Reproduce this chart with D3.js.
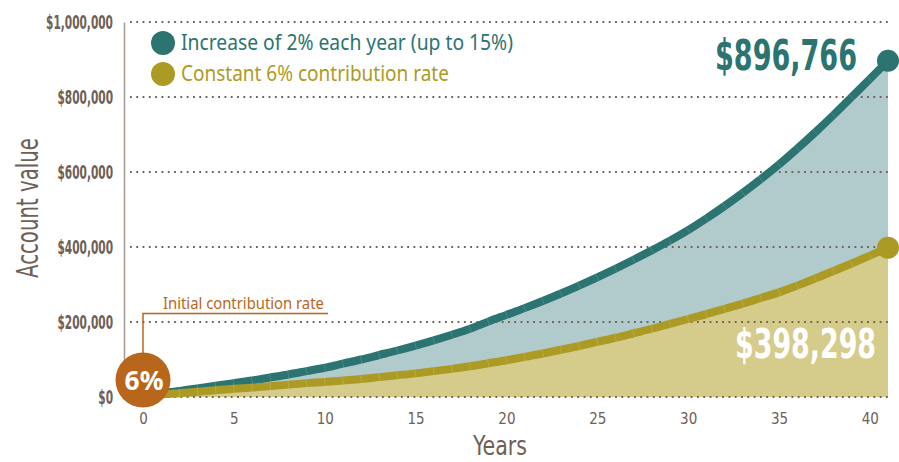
<!DOCTYPE html>
<html>
<head>
<meta charset="utf-8">
<script src="https://cdn.jsdelivr.net/npm/d3@7"></script>
<style>
  body { margin: 0; background: #fff; }
  svg { display: block; }
</style>
</head>
<body>
<div id="chart"></div>
<script>
// data (account values in thousands of dollars)
const years = [0,1,2,3,4,5,6,7,8,9,10,11,12,13,14,15,16,17,18,19,20,
               21,22,23,24,25,26,27,28,29,30,31,32,33,34,35,36,37,38,39,40,41];
const increasing = [4,10,16,23,30,37,44,52,60,69,78,89,100,112,124,137,151,166,182,201,219,
                    237,256,276,297,319,342,366,391,417,445,476,509,544,581,620,662,706,752,800,848,896.766];
const constant = [4,7,10,14,18,22,25,29,33,37,40,44,48,53,58,63,69,75,82,90,98,
                  107,116,126,136,147,158,170,182,195,208,221,235,249,264,279,297,316,336,356,377,398.298];
const xTicks = [0,5,10,15,20,25,30,35,40];
const yTicks = [0,200,400,600,800,1000];
const yTickLabels = ['$0','$200,000','$400,000','$600,000','$800,000','$1,000,000'];
const legendLabels = ['Increase of 2% each year (up to 15%)', 'Constant 6% contribution rate'];
const endLabels = ['$896,766', '$398,298'];

const W = 899, H = 462;
const teal = '#2b7471', tealFill = '#b1cbcd';
const olive = '#ab9b24', oliveFill = '#d5cc8b';
const orange = '#b8661b', ink = '#6e6057';
const narrow = "'Liberation Sans Narrow','DejaVu Sans Condensed',sans-serif";

// squeeze a text horizontally to width w (keeps its anchor point)
function fit(sel, w, rot) {
    const node = sel.node();
    const k = w / node.getComputedTextLength();
    const tx = +sel.attr('x') || 0, ty = +sel.attr('y') || 0;
    sel.attr('x', 0).attr('y', 0)
        .attr('transform', 'translate(' + tx + ',' + ty + ')' + (rot ? ' rotate(' + rot + ')' : '') + ' scale(' + k + ',1)');
}

const svg = d3.select('#chart').append('svg')
    .attr('width', W).attr('height', H);

const x = d3.scaleLinear().domain([0, 41]).range([143, 888]);
const y = d3.scaleLinear().domain([0, 1000]).range([397, 22]);

const rows = years.map((yr, i) => ({ yr, a: increasing[i], b: constant[i] }));

// areas
const areaA = d3.area().x(d => x(d.yr)).y0(y(0)).y1(d => y(d.a)).curve(d3.curveMonotoneX);
const areaB = d3.area().x(d => x(d.yr)).y0(y(0)).y1(d => y(d.b)).curve(d3.curveMonotoneX);
svg.append('path').datum(rows).attr('d', areaA).attr('fill', tealFill);
svg.append('path').datum(rows).attr('d', areaB).attr('fill', oliveFill);

// dotted grid
svg.append('g').selectAll('line').data(yTicks).join('line')
    .attr('x1', 130).attr('x2', 888)
    .attr('y1', d => y(d)).attr('y2', d => y(d))
    .attr('stroke', ink).attr('stroke-width', 2)
    .attr('stroke-dasharray', '1.8 4.5');

// y axis
const yAxis = d3.axisLeft(y).tickValues(yTicks).tickSize(0).tickSizeOuter(0).tickPadding(11)
    .tickFormat((d, i) => yTickLabels[i]);
const yg = svg.append('g').attr('transform', 'translate(124,0)').call(yAxis);
yg.select('.domain').attr('stroke', '#a59a91').attr('stroke-width', 1.5);
yg.selectAll('text')
    .attr('font-family', narrow).attr('font-weight', 'bold')
    .attr('font-size', 19).attr('fill', ink);
const widest = yg.selectAll('text').filter((d, i) => i === yTicks.length - 1).node().getComputedTextLength();
const yk = 67 / widest;
yg.selectAll('text').each(function () {
    const t = d3.select(this);
    fit(t, this.getComputedTextLength() * yk);
});

// x axis
const xAxis = d3.axisBottom(x).tickValues(xTicks).tickSize(0).tickPadding(16);
const xg = svg.append('g').attr('transform', 'translate(0,397)').call(xAxis);
xg.select('.domain').remove();
xg.selectAll('text')
    .attr('font-family', narrow).attr('font-size', 15).attr('fill', ink);

// lines
const lineA = d3.line().x(d => x(d.yr)).y(d => y(d.a)).curve(d3.curveMonotoneX);
const lineB = d3.line().x(d => x(d.yr)).y(d => y(d.b)).curve(d3.curveMonotoneX);
svg.append('path').datum(rows).attr('d', lineA)
    .attr('fill', 'none').attr('stroke', teal).attr('stroke-width', 8);
svg.append('path').datum(rows).attr('d', lineB)
    .attr('fill', 'none').attr('stroke', olive).attr('stroke-width', 8);

// faint segment seams across the thick lines
function seams(key, color) {
    const inner = rows.slice(1, rows.length - 1);
    svg.append('g').selectAll('line').data(inner).join('line')
        .each(function (d, i) {
            const p = rows[i], n = rows[i + 2];
            const dx = x(n.yr) - x(p.yr), dy = y(n[key]) - y(p[key]);
            const l = Math.hypot(dx, dy);
            const nx = -dy / l * 4, ny = dx / l * 4;
            const cx = x(d.yr), cy = y(d[key]);
            d3.select(this)
                .attr('x1', cx - nx).attr('y1', cy - ny)
                .attr('x2', cx + nx).attr('y2', cy + ny);
        })
        .attr('stroke', color).attr('stroke-width', 0.7).attr('opacity', 0.45);
}
seams('a', '#8fb3b2');
seams('b', '#d6cc8e');

// end dots
const last = rows[rows.length - 1];
svg.append('circle').attr('cx', x(last.yr)).attr('cy', y(last.a)).attr('r', 11).attr('fill', teal);
svg.append('circle').attr('cx', x(last.yr)).attr('cy', y(last.b)).attr('r', 11).attr('fill', olive);

// end values
svg.append('text').text(endLabels[0])
    .attr('x', 857).attr('y', 70).attr('text-anchor', 'end')
    .attr('font-family', narrow).attr('font-weight', 'bold').attr('font-size', 42)
    .attr('fill', teal).call(fit, 142);
svg.append('text').text(endLabels[1])
    .attr('x', 876).attr('y', 358).attr('text-anchor', 'end')
    .attr('font-family', narrow).attr('font-weight', 'bold').attr('font-size', 40)
    .attr('fill', '#fff').call(fit, 141);

// legend
const legend = svg.append('g');
[teal, olive].forEach((c, i) => {
    legend.append('circle').attr('cx', 163).attr('cy', 43 + i * 31).attr('r', 12).attr('fill', c);
    legend.append('text').text(legendLabels[i])
        .attr('x', 181).attr('y', 50 + i * 31)
        .attr('font-family', "'Noto Sans',sans-serif").attr('font-size', 21)
        .attr('fill', c).call(fit, i === 0 ? 332 : 268);
});

// axis titles
svg.append('text').text('Account value')
    .attr('x', 38).attr('y', 208)
    .attr('text-anchor', 'middle')
    .attr('font-family', narrow).attr('font-size', 31).attr('fill', ink)
    .call(fit, 140, -90);
svg.append('text').text('Years')
    .attr('x', 500).attr('y', 455).attr('text-anchor', 'middle')
    .attr('font-family', narrow).attr('font-size', 26).attr('fill', ink)
    .call(fit, 54);

// initial contribution callout
svg.append('path')
    .attr('d', 'M' + x(0) + ',353V313.5H328')
    .attr('fill', 'none').attr('stroke', orange).attr('stroke-width', 1.5);
svg.append('text').text('Initial contribution rate')
    .attr('x', 163).attr('y', 309)
    .attr('font-family', "'Noto Sans',sans-serif").attr('font-size', 16.5)
    .attr('fill', orange).call(fit, 161);
svg.append('circle').attr('cx', x(0)).attr('cy', 380).attr('r', 27.5).attr('fill', orange);
svg.append('text').text('6%')
    .attr('x', x(0) + 1).attr('y', 390).attr('text-anchor', 'middle')
    .attr('font-family', "'Noto Sans',sans-serif").attr('font-weight', 'bold')
    .attr('font-size', 27).attr('fill', '#fff').call(fit, 39);
</script>
</body>
</html>
